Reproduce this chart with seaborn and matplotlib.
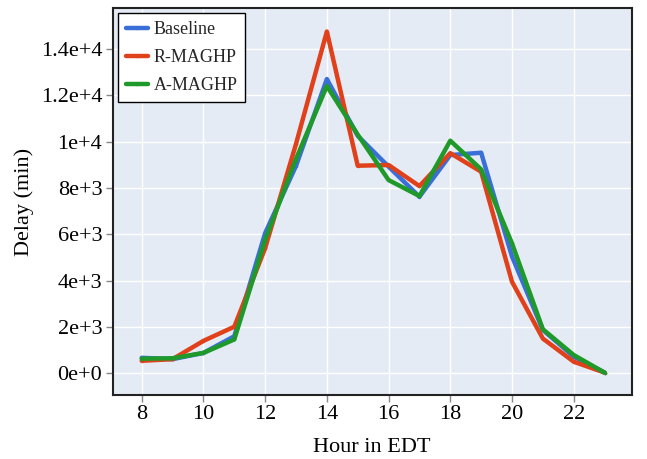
import matplotlib
matplotlib.use("Agg")
import matplotlib.pyplot as plt
import seaborn as sns
import pandas as pd
from matplotlib.ticker import FuncFormatter

hours = [8, 9, 10, 11, 12, 13, 14, 15, 16, 17, 18, 19, 20, 21, 22, 23]
baseline = [670, 610, 880, 1600, 6050, 8950, 12700, 10250, 8920, 7620, 9420, 9520, 5040, 1870, 720, 30]
r_maghp = [540, 610, 1400, 2010, 5400, 9900, 14750, 8960, 8990, 8080, 9500, 8700, 3950, 1500, 500, 30]
a_maghp = [630, 650, 880, 1460, 5750, 9250, 12400, 10300, 8340, 7650, 10040, 8800, 5610, 1900, 790, 30]
series_names = ["Baseline", "R-MAGHP", "A-MAGHP"]
colors = ["#3a6fd8", "#e0401a", "#1f9a2a"]

df = pd.DataFrame({
    "hour": hours * 3,
    "delay": baseline + r_maghp + a_maghp,
    "method": [series_names[0]] * len(hours) + [series_names[1]] * len(hours) + [series_names[2]] * len(hours),
})

sns.set_theme(style="darkgrid")
plt.rcParams["font.family"] = ["Liberation Serif", "DejaVu Serif"]

fig = plt.figure(figsize=(6.47, 4.59), dpi=100)
ax = fig.add_axes([0.1742, 0.1394, 0.8022, 0.8426])
ax.set_facecolor("#e5ebf5")

sns.lineplot(data=df, x="hour", y="delay", hue="method", palette=colors,
             linewidth=3.2, marker="o", markersize=2.5, markeredgewidth=0, ax=ax)

ax.set_xlim(7.06, 23.88)
ax.set_ylim(-937, 15755)
ax.set_xticks([8, 10, 12, 14, 16, 18, 20, 22])
ax.set_yticks([0, 2000, 4000, 6000, 8000, 10000, 12000, 14000])

def fmt(v, pos):
    if v == 0:
        return "0e+0"
    e = 0
    m = v
    while abs(m) >= 10:
        m /= 10
        e += 1
    s = ("%.1f" % m).rstrip("0").rstrip(".")
    return "%se+%d" % (s, e)

ax.yaxis.set_major_formatter(FuncFormatter(fmt))
ax.grid(True, color="white", linewidth=1.0)
for sp in ax.spines.values():
    sp.set_visible(True)
    sp.set_color("#222222")
    sp.set_linewidth(1.5)
ax.tick_params(axis="both", which="major", labelsize=16, length=5, width=1,
               color="#888888", bottom=True, left=True, labelcolor="black", pad=2.5)
ax.set_xlabel("Hour in EDT", fontsize=16, color="black", labelpad=10)
ax.set_ylabel("Delay (min)", fontsize=16, color="black", labelpad=5)

leg = ax.legend(loc="upper left", fontsize=13, frameon=True, fancybox=False,
                handlelength=1.22, handletextpad=0.32,
                borderpad=0.42, labelspacing=0.62,
                borderaxespad=0, bbox_to_anchor=(0.0108, 0.987))
leg.get_frame().set_edgecolor("black")
leg.get_frame().set_facecolor("white")
leg.get_frame().set_alpha(1.0)
leg.get_frame().set_linewidth(1.0)
leg.set_title(None)

fig.savefig("out.png", dpi=100)
